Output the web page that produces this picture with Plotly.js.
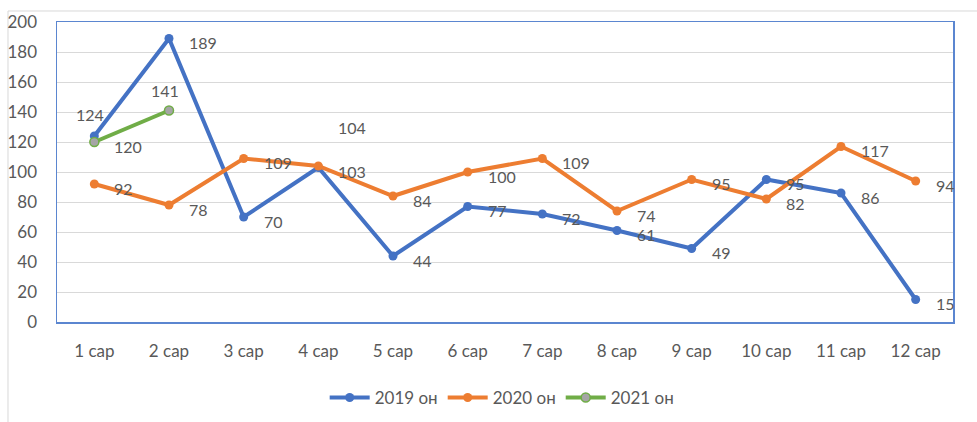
<!DOCTYPE html>
<html>
<head>
<meta charset="utf-8">
<script src="https://cdn.plot.ly/plotly-3.0.1.min.js"></script>
<style>
  html, body { margin: 0; padding: 0; background: #fff; }
  #chart { width: 977px; height: 422px; }
</style>
</head>
<body>
<div id="chart"></div>
<script>
const months = ['1 сар', '2 сар', '3 сар', '4 сар', '5 сар', '6 сар',
                '7 сар', '8 сар', '9 сар', '10 сар', '11 сар', '12 сар'];

const seriesNames = ['2019 он', '2020 он', '2021 он'];
const values2019 = [124, 189, 70, 103, 44, 77, 72, 61, 49, 95, 86, 15];
const values2020 = [92, 78, 109, 104, 84, 100, 109, 74, 95, 82, 117, 94];
const values2021 = [120, 141];

const lineColors = ['#4472c4', '#ed7d31', '#70ad47'];
const markerColors = ['#4472c4', '#ed7d31', '#a5a5a5'];
const textColor = '#595959';
const fontFamily = 'Lato, "Open Sans", sans-serif';

const allValues = [values2019, values2020, values2021];

const traces = allValues.map((vals, i) => ({
    x: months.slice(0, vals.length),
    y: vals,
    name: seriesNames[i],
    type: 'scatter',
    mode: 'lines+markers',
    line: { color: lineColors[i], width: 4 },
    marker: {
        color: markerColors[i],
        size: 9,
        line: { color: lineColors[i], width: i === 2 ? 1.5 : 0 }
    },
    hoverinfo: 'skip'
}));

// most labels sit to the right of the point, a few are moved like in the original
function labelOffset(series, idx) {
    if (series === 0 && idx === 0) return { xanchor: 'center', xshift: -4, yshift: 22 };
    if (series === 2 && idx === 1) return { xanchor: 'center', xshift: -4, yshift: 20 };
    if (series === 1 && idx === 3) return { xanchor: 'left', xshift: 18, yshift: 39 };
    return { xanchor: 'left', xshift: 18, yshift: -4 };
}

const annotations = [];
allValues.forEach((vals, s) => {
    vals.forEach((v, i) => {
        const off = labelOffset(s, i);
        annotations.push({
            x: months[i], y: v, xref: 'x', yref: 'y',
            text: String(v), showarrow: false,
            xanchor: off.xanchor, yanchor: 'middle',
            xshift: off.xshift, yshift: off.yshift,
            font: { family: fontFamily, size: 16, color: textColor }
        });
    });
});

const layout = {
    width: 977,
    height: 422,
    margin: { l: 57, r: 24, t: 22, b: 100 },
    paper_bgcolor: '#ffffff',
    plot_bgcolor: '#ffffff',
    font: { family: fontFamily, size: 16, color: textColor },
    showlegend: true,
    legend: {
        orientation: 'h',
        xref: 'container', yref: 'container',
        x: 0.514, xanchor: 'center',
        y: 0.057, yanchor: 'middle',
        font: { family: fontFamily, size: 17, color: textColor },
        itemwidth: 40
    },
    xaxis: {
        type: 'category',
        range: [-0.5, 11.5],
        showgrid: false,
        zeroline: false,
        showline: true,
        mirror: true,
        linecolor: '#5b86d0',
        linewidth: 1.5,
        ticks: '',
        ticklabelstandoff: 13,
        tickfont: { family: fontFamily, size: 17, color: textColor },
        fixedrange: true,
        automargin: false
    },
    yaxis: {
        range: [0, 200],
        dtick: 20,
        showgrid: true,
        gridcolor: '#d9d9d9',
        gridwidth: 1,
        zeroline: false,
        showline: true,
        mirror: true,
        linecolor: '#5b86d0',
        linewidth: 1.5,
        ticks: '',
        ticklabelstandoff: 15,
        tickfont: { family: fontFamily, size: 17, color: textColor },
        fixedrange: true,
        automargin: false
    },
    shapes: [{
        type: 'rect', xref: 'paper', yref: 'paper',
        x0: -0.0547, x1: 1.2, y0: -0.5, y1: 1.0367,
        line: { color: '#d9d9d9', width: 1 },
        fillcolor: 'rgba(0,0,0,0)',
        layer: 'below'
    }],
    annotations: annotations
};

Plotly.newPlot('chart', traces, layout, { displayModeBar: false, staticPlot: true });
</script>
</body>
</html>
